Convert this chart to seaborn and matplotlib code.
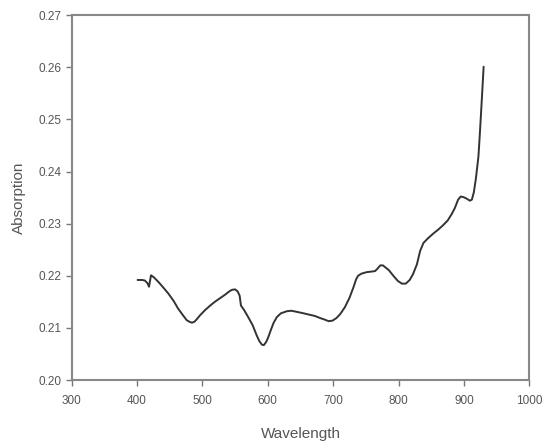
import matplotlib
matplotlib.use("Agg")
import matplotlib.pyplot as plt
import seaborn as sns
import pandas as pd

wavelength = [401, 408, 412, 416, 418.5, 420, 421.5, 426, 433, 440, 448, 456, 463, 470,
              476, 480, 484, 488, 491, 497, 504, 512, 519, 527, 535, 540, 545, 550,
              554, 557, 559, 564, 570, 577, 583, 587, 591, 594, 598, 601, 605, 609,
              614, 620, 629, 636, 644, 655, 665, 672, 680, 687, 693, 699, 705, 711,
              718, 725, 731, 735, 738, 743, 751, 758, 764, 768, 772, 776, 779, 785,
              792, 799, 805, 811, 817, 822, 828, 833, 838, 845, 853, 861, 868, 875,
              881, 886, 891, 895, 899, 904, 909, 912, 915, 918, 922, 924, 926, 928, 930]
absorption = [0.2192, 0.2192, 0.2191, 0.2186, 0.2179, 0.2190, 0.2201, 0.2197, 0.2188,
              0.2178, 0.2166, 0.2152, 0.2137, 0.2125, 0.2115, 0.2112, 0.2110, 0.2112,
              0.2116, 0.2125, 0.2134, 0.2143, 0.2150, 0.2157, 0.2164, 0.2169, 0.2173,
              0.2174, 0.2170, 0.2162, 0.2143, 0.2134, 0.2121, 0.2105, 0.2086, 0.2075,
              0.2068, 0.2067, 0.2074, 0.2083, 0.2097, 0.2110, 0.2121, 0.2128, 0.2132,
              0.2133, 0.2131, 0.2128, 0.2125, 0.2123, 0.2119, 0.2116, 0.2113, 0.2114,
              0.2119, 0.2127, 0.2140, 0.2158, 0.2178, 0.2193, 0.2200, 0.2204, 0.2207,
              0.2208, 0.2209, 0.2214, 0.2220, 0.2220, 0.2217, 0.2211, 0.2200, 0.2190,
              0.2185, 0.2185, 0.2192, 0.2203, 0.2222, 0.2248, 0.2263, 0.2272, 0.2281,
              0.2289, 0.2297, 0.2306, 0.2318, 0.2330, 0.2346, 0.2352, 0.2351, 0.2348,
              0.2344, 0.2346, 0.2360, 0.2385, 0.2428, 0.2468, 0.2511, 0.2556, 0.2601]
x_ticks = [300, 400, 500, 600, 700, 800, 900, 1000]
y_ticks = [0.20, 0.21, 0.22, 0.23, 0.24, 0.25, 0.26, 0.27]

df = pd.DataFrame({"Wavelength": wavelength, "Absorption": absorption})

sns.set_style("white")
plt.rcParams["font.family"] = ["Liberation Sans", "DejaVu Sans"]

fig = plt.figure(figsize=(5.43, 4.43), dpi=100)
ax = fig.add_axes([0.1317, 0.142, 0.8433, 0.824])
sns.lineplot(data=df, x="Wavelength", y="Absorption", ax=ax, color="#333333", linewidth=1.4)

ax.set_xlim(300, 1000)
ax.set_ylim(0.20, 0.27)
ax.set_xticks(x_ticks)
ax.set_yticks(y_ticks)
ax.set_yticklabels([f"{v:.2f}" for v in y_ticks])
ax.tick_params(axis="both", direction="out", length=4, width=1, colors="#777777",
               labelcolor="#555555", labelsize=8.5, bottom=True, left=True, top=False, right=False)
ax.tick_params(axis="x", pad=7)
for s in ax.spines.values():
    s.set_color("#888888")
    s.set_linewidth(1.5)
ax.set_xlabel("Wavelength", fontsize=11, color="#555555", labelpad=14)
ax.set_ylabel("Absorption", fontsize=11, color="#555555", labelpad=9)

fig.savefig("out.png", dpi=100)
